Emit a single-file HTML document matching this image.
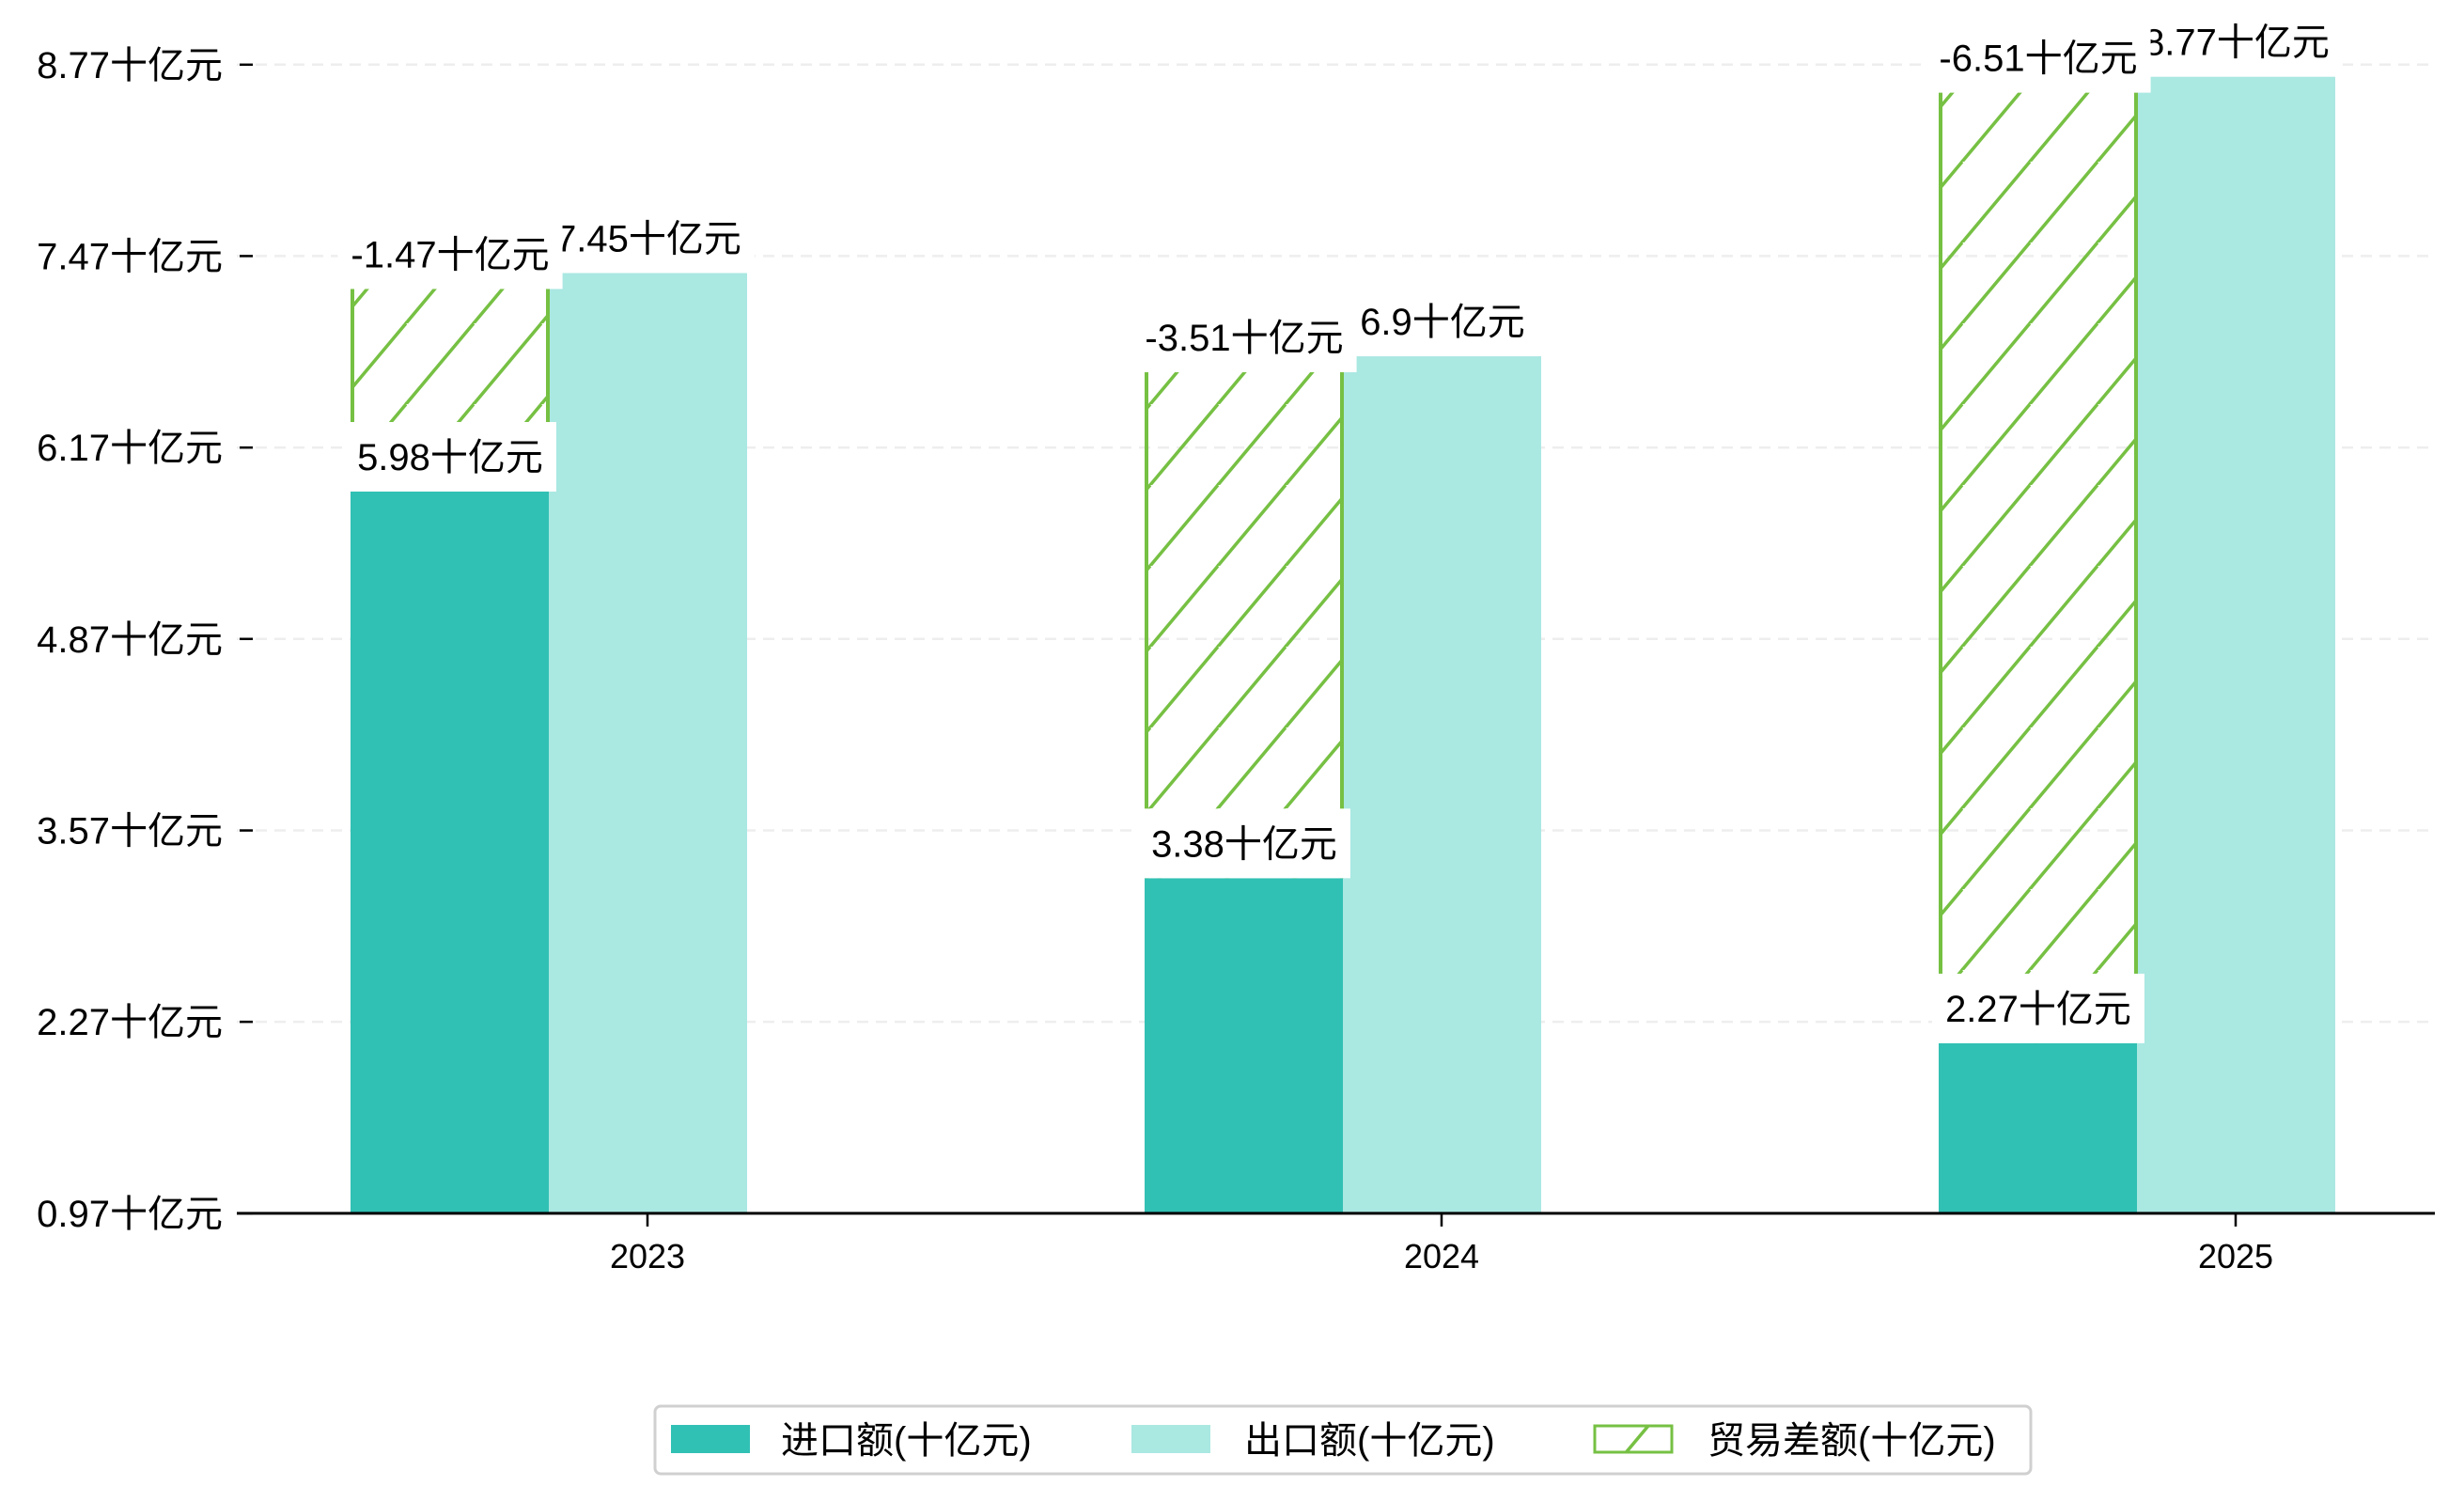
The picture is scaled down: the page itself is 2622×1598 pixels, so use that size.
<!DOCTYPE html>
<html><head><meta charset="utf-8"><style>
html,body{margin:0;padding:0;background:#fff;}
svg{display:block;font-family:"Liberation Sans","WenQuanYi Zen Hei","Noto Sans CJK SC",sans-serif;}
</style></head><body>
<svg id="chart" width="2622" height="1598" viewBox="0 0 2622 1598" xmlns="http://www.w3.org/2000/svg">
<defs>
<pattern id="hatch" patternUnits="userSpaceOnUse" width="72" height="86">
<line x1="-72" y1="172" x2="72" y2="0" stroke="#76c043" stroke-width="3.5"/>
<line x1="0" y1="172" x2="144" y2="0" stroke="#76c043" stroke-width="3.5"/>
<line x1="-72" y1="86" x2="0" y2="0" stroke="#76c043" stroke-width="3.5"/>
<line x1="72" y1="86" x2="144" y2="0" stroke="#76c043" stroke-width="3.5"/>
</pattern>
</defs>
<g id="grid"></g>
<g id="bars"></g>
<g id="labels"></g>
<g id="axes"></g>
<g id="legend">
<rect x="697" y="1496" width="1464" height="72" rx="6" fill="#fff" stroke="#d0d0d0" stroke-width="3"/>
<g>
<rect x="714" y="1516" width="84" height="30" fill="#31c0b4"/>
<text x="831" y="1546" font-size="40">进口额(十亿元)</text></g>
<g>
<rect x="1204" y="1516" width="84" height="30" fill="#aae8e2"/>
<text x="1324" y="1546" font-size="40">出口额(十亿元)</text></g>
<g>
<rect x="1697" y="1517" width="82" height="28" fill="url(#hatch)" stroke="#76c043" stroke-width="3"/>
<text x="1817" y="1546" font-size="40">贸易差额(十亿元)</text></g>
</g>
</svg>
<script>
const years = ['2023','2024','2025'];
const importVals = [5.98, 3.38, 2.27];
const exportVals = [7.45, 6.89, 8.77];
const balanceVals = [-1.47, -3.51, -6.51];
const exportLabels = ['7.45十亿元','6.9十亿元','8.77十亿元'];
const tickVals = [1.126, 2.414, 3.701, 4.989, 6.276, 7.564, 8.851];
const tickLabels = ['0.97十亿元','2.27十亿元','3.57十亿元','4.87十亿元','6.17十亿元','7.47十亿元','8.77十亿元'];

const NS='http://www.w3.org/2000/svg';
function mk(tag, attrs, parent){const e=document.createElementNS(NS,tag);for(const k in attrs)e.setAttribute(k,attrs[k]);parent.appendChild(e);return e;}
function y(v){return 523 + (5.98 - v) * 158.2;}
function xc(i){return 689 + i * 845;}
const BW = 211;
const grid=document.getElementById('grid'), bars=document.getElementById('bars'), labels=document.getElementById('labels'), axes=document.getElementById('axes');

tickVals.forEach((t,i)=>{
  const yy=y(t);
  if(i>0){const g=mk('line',{x1:252,x2:2591,y1:yy,y2:yy,stroke:'#eeeeee','stroke-width':2.5,'stroke-dasharray':'12,8'},grid);
  
  }
  const tk=mk('line',{x1:255,x2:269,y1:yy,y2:yy,stroke:'#000','stroke-width':2.5},axes);
  
  
  const tx=mk('text',{x:237,y:yy+14,'text-anchor':'end','font-size':40},axes);
  tx.textContent=tickLabels[i];
  
  
});
const base=y(tickVals[0]);
const ax=mk('line',{x1:252,x2:2591,y1:base,y2:base,stroke:'#000','stroke-width':3},axes);



function labelBox(text,cx,cy,name){
  const g=mk('g',{},labels);
  
  
  const r=mk('rect',{fill:'#fff'},g);
  const t=mk('text',{x:cx,y:cy+14,'text-anchor':'middle','font-size':40},g);
  t.textContent=text;
  const b=t.getBBox();
  r.setAttribute('x',b.x-14);r.setAttribute('y',cy-37);r.setAttribute('width',b.width+28);r.setAttribute('height',74);
}

years.forEach((yr,i)=>{
  const c=xc(i);
  const xi=c-316, xe=c-105;
  const bi=mk('rect',{x:xi,y:y(importVals[i]),width:BW,height:base-y(importVals[i]),fill:'#31c0b4'},bars);
  
  
  const be=mk('rect',{x:xe,y:y(exportVals[i]),width:BW,height:base-y(exportVals[i]),fill:'#aae8e2'},bars);
  
  
  const lo=importVals[i], hi=importVals[i]-balanceVals[i];
  const bb=mk('g',{},bars);
  
  
  mk('rect',{x:xi,y:y(hi),width:BW,height:y(lo)-y(hi),fill:'url(#hatch)'},bb);
  mk('line',{x1:xi+2,x2:xi+2,y1:y(hi),y2:y(lo),stroke:'#76c043','stroke-width':4},bb);
  mk('line',{x1:xi+BW-1,x2:xi+BW-1,y1:y(hi),y2:y(lo),stroke:'#76c043','stroke-width':4},bb);
  const tk=mk('line',{x1:c,x2:c,y1:base,y2:base+14,stroke:'#000','stroke-width':2.5},axes);
  
  
  const tx=mk('text',{x:c,y:1349,'text-anchor':'middle','font-size':36},axes);
  tx.textContent=yr;
  
  
});
years.forEach((yr,i)=>{
  const c=xc(i);
  labelBox(importVals[i].toFixed(2)+'十亿元', c-210, y(importVals[i])-37, 'label-import-'+yr);
  labelBox(exportLabels[i], c+1, y(exportVals[i])-37, 'label-export-'+yr);
  labelBox(balanceVals[i].toFixed(2)+'十亿元', c-210, y(Math.max(importVals[i],exportVals[i]))-20, 'label-balance-'+yr);
});
</script>
</body></html>
